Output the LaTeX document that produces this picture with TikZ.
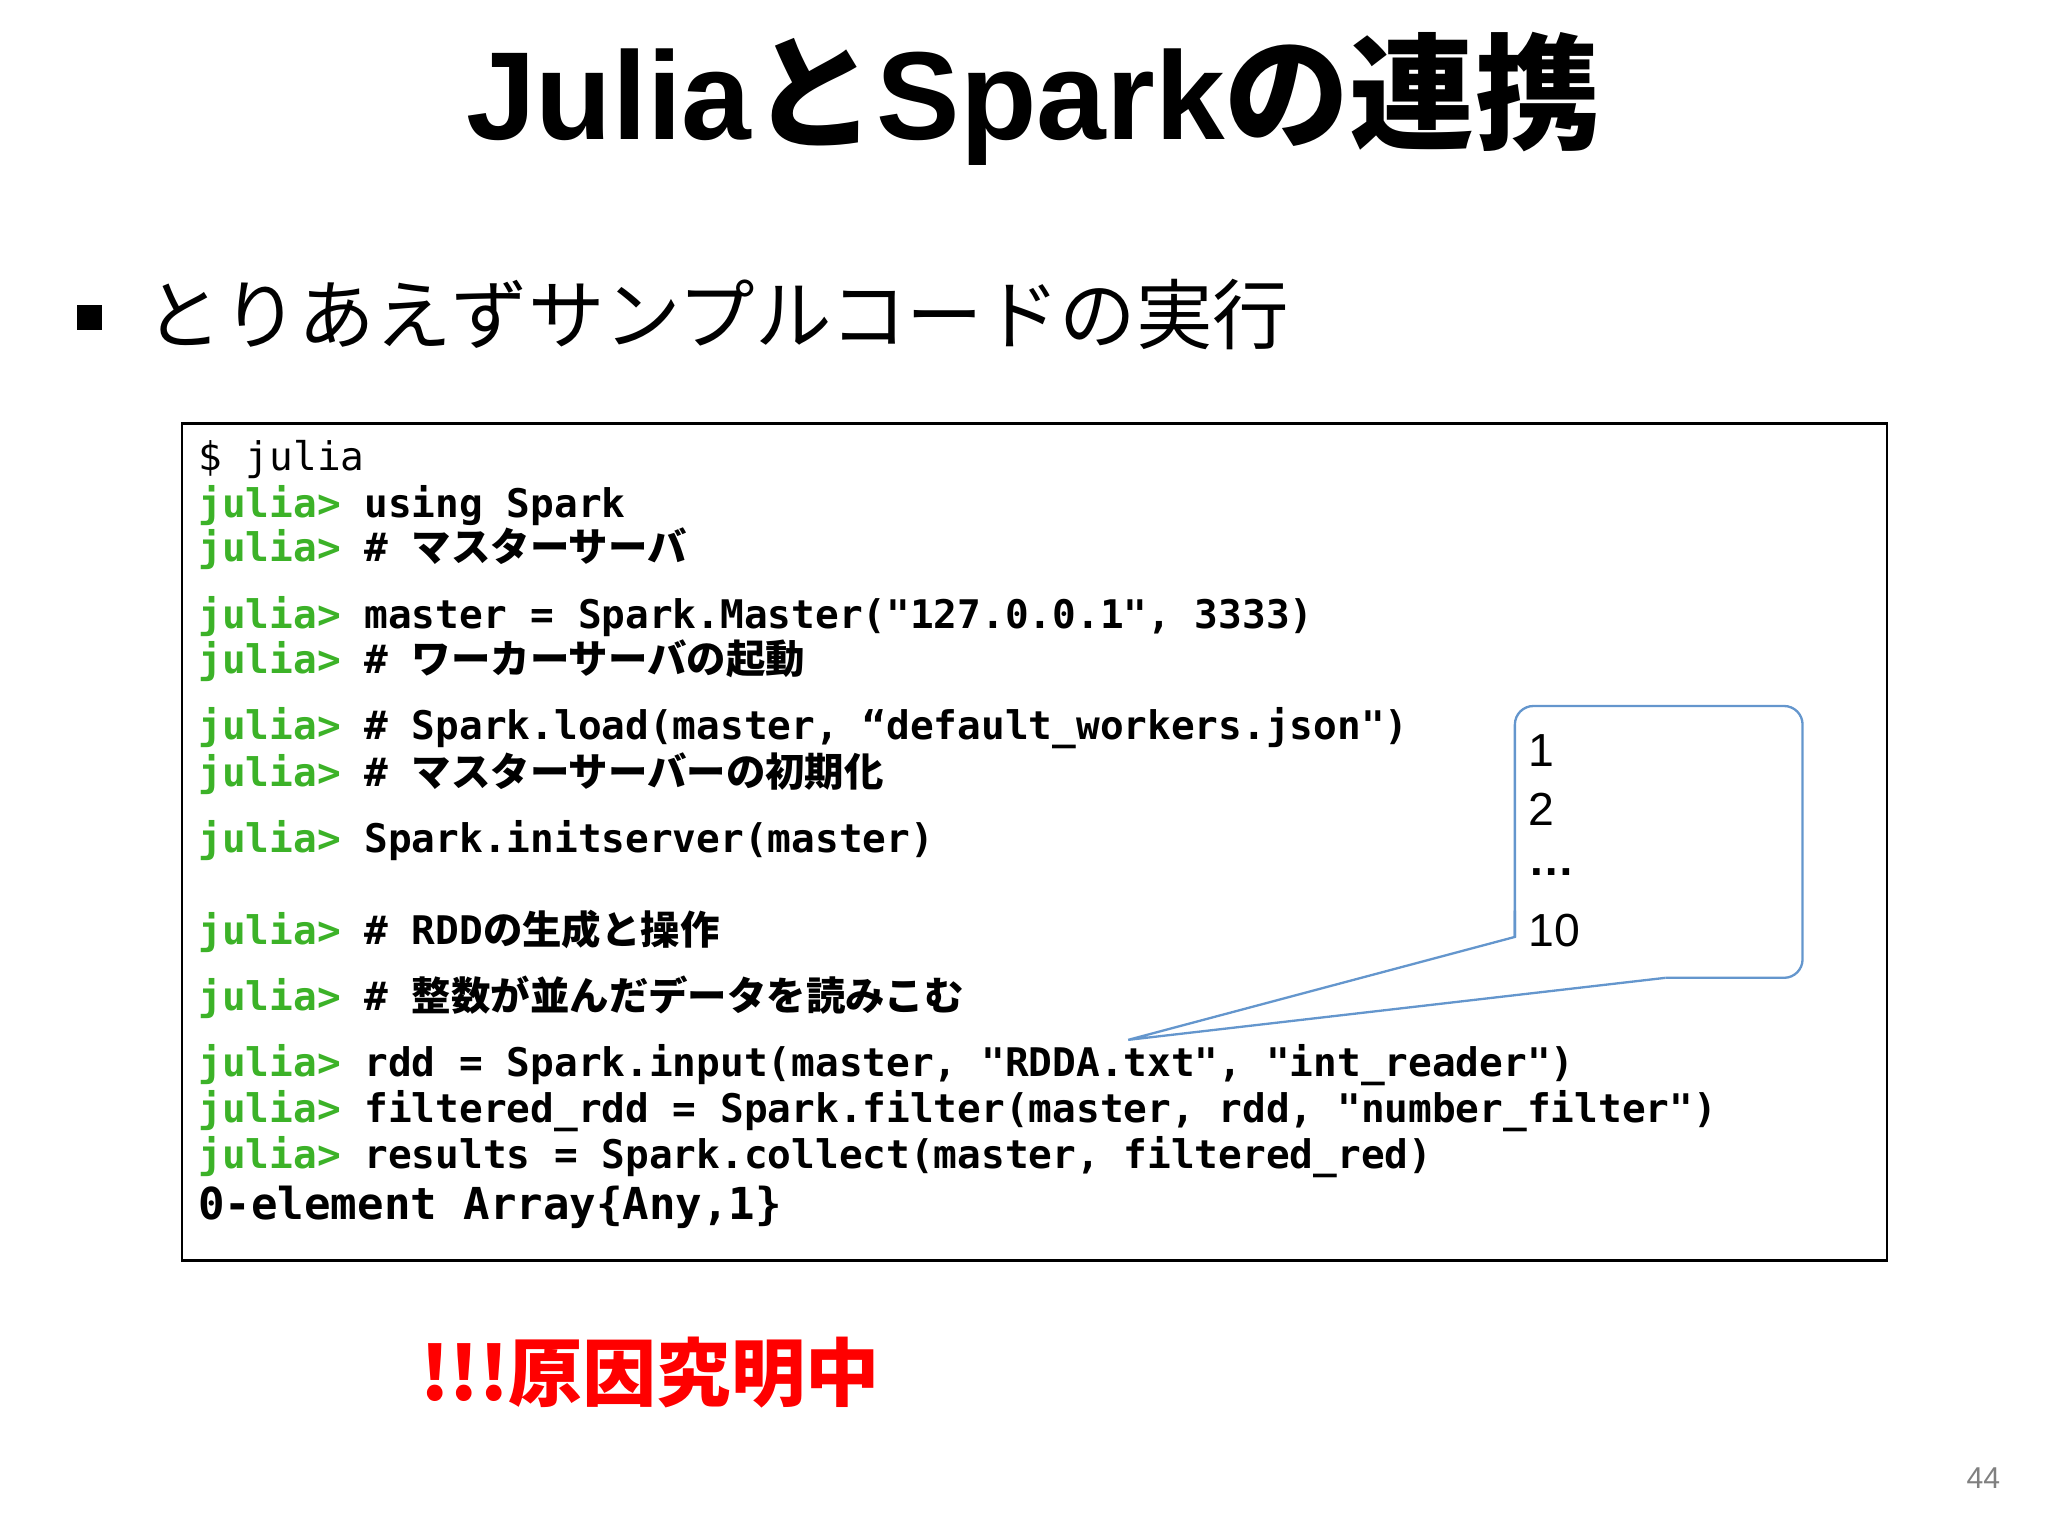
\documentclass[tikz,border=0pt]{standalone}
\usepackage{fontspec}
\setmainfont{Liberation Sans}
\setmonofont{DejaVu Sans Mono}
\newfontfamily\cjk{Noto Sans CJK JP}
\definecolor{jgreen}{RGB}{60,178,40}
\definecolor{cblue}{RGB}{100,150,205}
\newcommand{\jl}{{\color{jgreen}julia>}\ }
\begin{document}
\begin{tikzpicture}[x=0.02cm,y=-0.02cm,
  code/.style={anchor=west,inner sep=0,font=\ttfamily\bfseries\fontsize{17}{18}\selectfont},
  num/.style={anchor=west,inner sep=0,font=\fontsize{20}{22}\selectfont}]
\useasboundingbox (0,0) rectangle (1552,1164);
\node (title) at (783,75) {\fontsize{54}{60}\selectfont\bfseries Julia{\cjk\bfseries と}Spark{\cjk\bfseries の連携}};
\fill (58,231) rectangle (77,250);
\node[anchor=west,inner sep=0] (sub) at (110,238) {\cjk\fontsize{33}{35}\selectfont とりあえずサンプルコードの実行};
\draw[line width=1.2pt] (138,321) rectangle (1430,955);
\node[code,font=\ttfamily\fontsize{17}{18}\selectfont] (l1) at (150,348) {\$ julia};
\node[code] (l2) at (150,383) {\jl using Spark};
\node[code] (l3) at (150,416) {\jl \# {\cjk\bfseries マスターサーバ}};
\node[code] (l4) at (150,467) {\jl master = Spark.Master("127.0.0.1", 3333)};
\node[code] (l5) at (150,501) {\jl \# {\cjk\bfseries ワーカーサーバの起動}};
\node[code] (l6) at (150,552) {\jl \# Spark.load(master, “default\_workers.json")};
\node[code] (l7) at (150,586) {\jl \# {\cjk\bfseries マスターサーバーの初期化}};
\node[code] (l8) at (150,637) {\jl Spark.initserver(master)};
\node[code] (l9) at (150,706) {\jl \# RDD{\cjk\bfseries の生成と操作}};
\node[code] (l10) at (150,756) {\jl \# {\cjk\bfseries 整数が並んだデータを読みこむ}};
\node[code] (l11) at (150,807) {\jl rdd = Spark.input(master, "RDDA.txt", "int\_reader")};
\node[code] (l12) at (150,842) {\jl filtered\_rdd = Spark.filter(master, rdd, "number\_filter")};
\node[code] (l13) at (150,877) {\jl results = Spark.collect(master, filtered\_red)};
\node[code,font=\ttfamily\bfseries\fontsize{19}{21}\selectfont] (l14) at (150,915) {0-element Array\{Any,1\}};
\coordinate (tip) at (855,788);
\draw[cblue,line width=1pt,rounded corners=8] (1148,710) -- (1148,535) -- (1366,535) -- (1366,741) -- (1262,741);
\draw[cblue,line width=1pt] (1262,741) -- (tip) -- (1148,710) -- (1148,690);
\node[num] (n1) at (1158,569) {1};
\node[num] (n2) at (1158,613) {2};
\node[num,font=\bfseries\fontsize{20}{22}\selectfont] (n3) at (1158,661) {…};
\node[num] (n4) at (1158,705) {10};
\node[anchor=west,inner sep=0,text=red] (warn) at (318,1040) {\cjk\bfseries\fontsize{32}{34}\selectfont !!!原因究明中};
\node[text=gray,font=\fontsize{13}{14}\selectfont] (pg) at (1503,1120) {44};
\end{tikzpicture}
\end{document}
